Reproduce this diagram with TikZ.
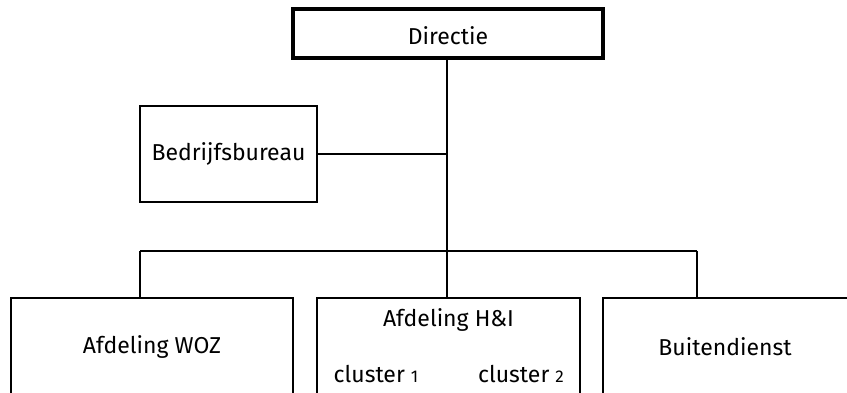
\documentclass[tikz,border=0pt]{standalone}
\usepackage{graphicx}
\usepackage{fontspec}
\setmainfont{Fira Sans}
\newcommand\oldfig[1]{\scalebox{0.74}{#1}}
\begin{document}
\begin{tikzpicture}[x=1pt,y=1pt,
  box/.style={draw, line width=2.9pt, inner sep=0pt},
  lbl/.style={font=\fontsize{23}{27}\selectfont, inner sep=0pt},
  conn/.style={line width=2.9pt}]
\useasboundingbox (0,0) rectangle (847,-393);
\clip (0,0) rectangle (847,-393);
% boxes
\node[box, line width=3.4pt, minimum width=310, minimum height=49] (dir) at (448,-33.5) {};
\node[lbl] (dirt) at (448,-36) {Directie};
\node[box, minimum width=177, minimum height=96] (bed) at (228.5,-154) {};
\node[lbl] (bedt) at (228.5,-154) {Bedrijfsbureau};
\node[box, minimum width=282, minimum height=140] (woz) at (152,-368) {};
\node[lbl] (wozt) at (152,-347) {Afdeling WOZ};
\node[box, minimum width=263, minimum height=140] (hi) at (448.5,-368) {};
\node[lbl] (hit) at (448.5,-320) {Afdeling H\&I};
\node[lbl] (c1) at (376,-374) {cluster \oldfig{1}};
\node[lbl] (c2) at (521,-374) {cluster \oldfig{2}};
\node[box, minimum width=270, minimum height=140] (bui) at (738,-368) {};
\node[lbl] (buit) at (725,-347) {Buitendienst};
% connectors
\coordinate (bc) at (447,-251);
\coordinate (bl) at (140,-251);
\coordinate (br) at (697,-251);
\coordinate (bj) at (447,-154);
\draw[conn] (dir.south -| bc) -- (bc);
\draw[conn] (bed.east) -- (bj);
\draw[conn] (bl) -- (br);
\draw[conn] (bl) -- (bl |- woz.north);
\draw[conn] (bc) -- (bc |- hi.north);
\draw[conn] (br) -- (br |- bui.north);
\end{tikzpicture}
\end{document}
